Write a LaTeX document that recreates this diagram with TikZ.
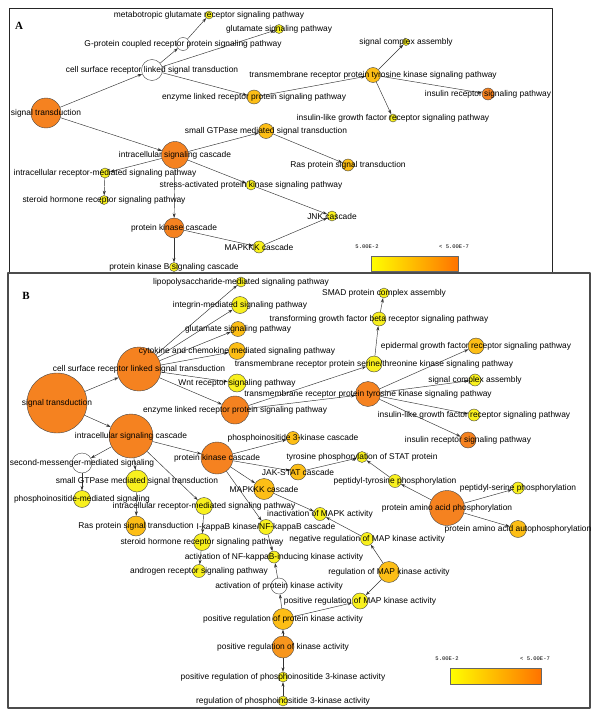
\documentclass[tikz,border=0pt]{standalone}
\usepackage{fontspec}
\setmainfont{Liberation Sans}
\newfontfamily\panelfont{Liberation Serif}
\newfontfamily\legendfont{Liberation Mono}
\usetikzlibrary{arrows.meta}
\pgfdeclarelayer{bg}
\pgfsetlayers{bg,main}
\definecolor{hi}{RGB}{245,130,32}
\definecolor{mid}{RGB}{253,190,22}
\definecolor{lo}{RGB}{248,240,30}
\definecolor{pk}{RGB}{247,150,30}
\definecolor{rim}{RGB}{70,70,70}
\begin{document}
\begin{tikzpicture}[x=1pt, y=-1pt, font=\fontsize{8.4}{9}\selectfont, line join=round, >={Stealth[length=4.5pt,width=3pt]},
	go/.style={circle, draw=rim, line width=0.4pt, inner sep=0pt},
	edge/.style={->, draw=black!80, line width=0.45pt},
	panel/.style={draw=black!85, line width=1pt}]
	\useasboundingbox (0,0) rectangle (600,717);
	% panel frames
	\draw[panel] (9,9) rectangle (552,272);
	\draw[panel, draw=black!70, line width=1.3pt] (8,273) rectangle (590,708);
	\node[font=\panelfont\bfseries\fontsize{11}{12}\selectfont] (labA) at (19,26) {A};
	\node[font=\panelfont\bfseries\fontsize{11}{12}\selectfont] (labB) at (26,296) {B};

	% ---- panel A ----
	\node[go, minimum size=30pt, fill=hi, label=center:signal transduction] (aST) at (46,113) {};
	\node[go, minimum size=21pt, fill=white, label=center:cell surface receptor linked signal transduction] (aCS) at (152,70) {};
	\node[go, minimum size=13pt, fill=white, label=center:G-protein coupled receptor protein signaling pathway] (aGP) at (183,44) {};
	\node[go, minimum size=8pt, fill=lo, label=center:metabotropic glutamate receptor signaling pathway] (aMG) at (209,15) {};
	\node[go, minimum size=9pt, fill=lo, label=center:glutamate signaling pathway] (aGS) at (279,29) {};
	\node[go, minimum size=14pt, fill=mid, label=center:enzyme linked receptor protein signaling pathway] (aEL) at (254,97) {};
	\node[go, minimum size=15pt, fill=mid, label=center:transmembrane receptor protein tyrosine kinase signaling pathway] (aRTK) at (373,75) {};
	\node[go, minimum size=7pt, fill=lo, label=center:signal complex assembly] (aSCA) at (406,42) {};
	\node[go, minimum size=12pt, fill=hi, label=center:insulin receptor signaling pathway] (aIR) at (488,94) {};
	\node[go, minimum size=8pt, fill=lo, label=center:insulin-like growth factor receptor signaling pathway] (aIGF) at (393,118) {};
	\node[go, minimum size=27pt, fill=hi, label=center:intracellular signaling cascade] (aICS) at (175,155) {};
	\node[go, minimum size=15pt, fill=mid, label=center:small GTPase mediated signal transduction] (aGTP) at (266,131) {};
	\node[go, minimum size=12pt, fill=mid, label=center:Ras protein signal transduction] (aRas) at (348,165) {};
	\node[go, minimum size=10pt, fill=lo, label=center:intracellular receptor-mediated signaling pathway] (aIRM) at (105,173) {};
	\node[go, minimum size=9pt, fill=lo, label=center:steroid hormone receptor signaling pathway] (aSH) at (104,200) {};
	\node[go, minimum size=10pt, fill=lo, label=center:stress-activated protein kinase signaling pathway] (aSAPK) at (251,185) {};
	\node[go, minimum size=10pt, fill=lo, label=center:JNK cascade] (aJNK) at (332,216) {};
	\node[go, minimum size=20pt, fill=hi, label=center:protein kinase cascade] (aPKC) at (174,228) {};
	\node[go, minimum size=12pt, fill=lo, label=center:MAPKKK cascade] (aMKKK) at (259,247) {};
	\node[go, minimum size=9pt, fill=lo, label=center:protein kinase B signaling cascade] (aPKB) at (174,267) {};

	% legend A
	\node[font=\legendfont\fontsize{5.5}{6}\selectfont] (aLo) at (367,247) {5.00E-2};
	\node[font=\legendfont\fontsize{5.5}{6}\selectfont] (aHi) at (454,247) {< 5.00E-7};
	\shade[left color=yellow, right color=orange!90!red, draw=black!60, line width=0.5pt] (371,256) rectangle (458,271);

	% ---- panel B ----
	\node[go, minimum size=60pt, fill=hi, label=center:signal transduction] (bST) at (57,403) {};
	\node[go, minimum size=44pt, fill=hi, label=center:cell surface receptor linked signal transduction] (bCS) at (139,369) {};
	\node[go, minimum size=10pt, fill=lo, label=center:lipopolysaccharide-mediated signaling pathway] (bLPS) at (241,282) {};
	\node[go, minimum size=17pt, fill=lo, label=center:integrin-mediated signaling pathway] (bInt) at (240,305) {};
	\node[go, minimum size=15pt, fill=mid, label=center:glutamate signaling pathway] (bGlu) at (238,329) {};
	\node[go, minimum size=17pt, fill=mid, label=center:cytokine and chemokine mediated signaling pathway] (bCyt) at (237,351) {};
	\node[go, minimum size=18pt, fill=lo, label=center:Wnt receptor signaling pathway] (bWnt) at (237,383) {};
	\node[go, minimum size=28pt, fill=hi, label=center:enzyme linked receptor protein signaling pathway] (bEL) at (235,410) {};
	\node[go, minimum size=10pt, fill=lo, label=center:SMAD protein complex assembly] (bSMAD) at (384,293) {};
	\node[go, minimum size=14pt, fill=lo, label=center:transforming growth factor beta receptor signaling pathway] (bTGF) at (379,319) {};
	\node[go, minimum size=16pt, fill=mid, label=center:epidermal growth factor receptor signaling pathway] (bEGF) at (476,346) {};
	\node[go, minimum size=16pt, fill=lo, label=center:transmembrane receptor protein serine/threonine kinase signaling pathway] (bSTK) at (374,364) {};
	\node[go, minimum size=12pt, fill=lo, label=center:signal complex assembly] (bSCA) at (475,380) {};
	\node[go, minimum size=25pt, fill=hi, label=center:transmembrane receptor protein tyrosine kinase signaling pathway] (bRTK) at (368,394) {};
	\node[go, minimum size=12pt, fill=lo, label=center:insulin-like growth factor receptor signaling pathway] (bIGF) at (474,415) {};
	\node[go, minimum size=16pt, fill=hi, label=center:insulin receptor signaling pathway] (bIR) at (468,440) {};
	\node[go, minimum size=44pt, fill=hi, label=center:intracellular signaling cascade] (bICS) at (131,436) {};
	\node[go, minimum size=32pt, fill=hi, label=center:protein kinase cascade] (bPKC) at (217,458) {};
	\node[go, minimum size=13pt, fill=mid, label=center:phosphoinositide 3-kinase cascade] (bPI3K) at (293,438) {};
	\node[go, minimum size=11pt, fill=lo, label=center:tyrosine phosphorylation of STAT protein] (bSTAT) at (362,457) {};
	\node[go, minimum size=16pt, fill=mid, label=center:JAK-STAT cascade] (bJAK) at (298,472) {};
	\node[go, minimum size=13pt, fill=lo, label=center:peptidyl-tyrosine phosphorylation] (bPTyr) at (395,481) {};
	\node[go, minimum size=12pt, fill=lo, label=center:peptidyl-serine phosphorylation] (bPSer) at (518,488) {};
	\node[go, minimum size=35pt, fill=hi, label=center:protein amino acid phosphorylation] (bPAA) at (447,508) {};
	\node[go, minimum size=17pt, fill=mid, label=center:protein amino acid autophosphorylation] (bAuto) at (518,529) {};
	\node[go, minimum size=20pt, fill=white, label=center:second-messenger-mediated signaling] (bSM) at (82,463) {};
	\node[go, minimum size=22pt, fill=lo, label=center:small GTPase mediated signal transduction] (bGTP) at (137,481) {};
	\node[go, minimum size=21pt, fill=mid, label=center:MAPKKK cascade] (bMKKK) at (264,489) {};
	\node[go, minimum size=17pt, fill=lo, label=center:phosphoinositide-mediated signaling] (bPIM) at (82,499) {};
	\node[go, minimum size=17pt, fill=lo, label=center:intracellular receptor-mediated signaling pathway] (bIRM) at (204,506) {};
	\node[go, minimum size=20pt, fill=mid, label=center:Ras protein signal transduction] (bRas) at (136,526) {};
	\node[go, minimum size=15pt, fill=lo, label=center:I-kappaB kinase/NF-kappaB cascade] (bNFkB) at (266,527) {};
	\node[go, minimum size=17pt, fill=lo, label=center:steroid hormone receptor signaling pathway] (bSH) at (202,542) {};
	\node[go, minimum size=13pt, fill=lo, label=center:inactivation of MAPK activity] (bInMAPK) at (320,514) {};
	\node[go, minimum size=13pt, fill=lo, label=center:negative regulation of MAP kinase activity] (bNeg) at (367,539) {};
	\node[go, minimum size=12pt, fill=lo, label=center:activation of NF-kappaB-inducing kinase activity] (bNIK) at (274,557) {};
	\node[go, minimum size=13pt, fill=lo, label=center:androgen receptor signaling pathway] (bAR) at (199,571) {};
	\node[go, minimum size=21pt, fill=mid, label=center:regulation of MAP kinase activity] (bRMAP) at (389,572) {};
	\node[go, minimum size=16pt, fill=white, label=center:activation of protein kinase activity] (bAPK) at (279,586) {};
	\node[go, minimum size=16pt, fill=lo, label=center:positive regulation of MAP kinase activity] (bPMAP) at (360,601) {};
	\node[go, minimum size=21pt, fill=mid, label=center:positive regulation of protein kinase activity] (bPPK) at (283,619) {};
	\node[go, minimum size=22pt, fill=pk, label=center:positive regulation of kinase activity] (bPK) at (283,647) {};
	\node[go, minimum size=10pt, fill=lo, label=center:positive regulation of phosphoinositide 3-kinase activity] (bPPI3K) at (283,677) {};
	\node[go, minimum size=10pt, fill=lo, label=center:regulation of phosphoinositide 3-kinase activity] (bRPI3K) at (283,701) {};

	% legend B
	\node[font=\legendfont\fontsize{5.5}{6}\selectfont] (bLo) at (447,659) {5.00E-2};
	\node[font=\legendfont\fontsize{5.5}{6}\selectfont] (bHi) at (535,659) {< 5.00E-7};
	\shade[left color=yellow, right color=orange!90!red, draw=black!60, line width=0.5pt] (450,668) rectangle (541,684);

	\begin{pgfonlayer}{bg}
	% edges A
	\draw[edge] (aST) -- (aCS);
	\draw[edge] (aST) -- (aICS);
	\draw[edge] (aCS) -- (aGP);
	\draw[edge] (aGP) -- (aMG);
	\draw[edge] (aCS) -- (aGS);
	\draw[edge] (aCS) -- (aEL);
	\draw[edge] (aEL) -- (aRTK);
	\draw[edge] (aRTK) -- (aSCA);
	\draw[edge] (aRTK) -- (aIR);
	\draw[edge] (aRTK) -- (aIGF);
	\draw[edge] (aICS) -- (aGTP);
	\draw[edge] (aGTP) -- (aRas);
	\draw[edge] (aICS) -- (aIRM);
	\draw[edge] (aIRM) -- (aSH);
	\draw[edge] (aICS) -- (aSAPK);
	\draw[edge] (aSAPK) -- (aJNK);
	\draw[edge] (aICS) -- (aPKC);
	\draw[edge] (aPKC) -- (aMKKK);
	\draw[edge] (aMKKK) -- (aJNK);
	\draw[edge] (aPKC) -- (aPKB);
	% edges B
	\draw[edge] (bST) -- (bCS);
	\draw[edge] (bST) -- (bICS);
	\draw[edge] (bCS) -- (bLPS);
	\draw[edge] (bCS) -- (bInt);
	\draw[edge] (bCS) -- (bGlu);
	\draw[edge] (bCS) -- (bCyt);
	\draw[edge] (bCS) -- (bWnt);
	\draw[edge] (bCS) -- (bEL);
	\draw[edge] (bEL) -- (bSTK);
	\draw[edge] (bEL) -- (bRTK);
	\draw[edge] (bSTK) -- (bTGF);
	\draw[edge] (bTGF) -- (bSMAD);
	\draw[edge] (bRTK) -- (bEGF);
	\draw[edge] (bRTK) -- (bSCA);
	\draw[edge] (bRTK) -- (bIGF);
	\draw[edge] (bRTK) -- (bIR);
	\draw[edge] (bICS) -- (bSM);
	\draw[edge] (bICS) -- (bGTP);
	\draw[edge] (bICS) -- (bPKC);
	\draw[edge] (bICS) -- (bIRM);
	\draw[edge] (bSM) -- (bPIM);
	\draw[edge] (bGTP) -- (bRas);
	\draw[edge] (bIRM) -- (bSH);
	\draw[edge] (bSH) -- (bAR);
	\draw[edge] (bPKC) -- (bPI3K);
	\draw[edge] (bPKC) -- (bJAK);
	\draw[edge] (bPKC) -- (bMKKK);
	\draw[edge] (bPKC) -- (bNFkB);
	\draw[edge] (bJAK) -- (bSTAT);
	\draw[edge] (bPTyr) -- (bSTAT);
	\draw[edge] (bPAA) -- (bPTyr);
	\draw[edge] (bPAA) -- (bPSer);
	\draw[edge] (bPAA) -- (bAuto);
	\draw[edge] (bMKKK) -- (bInMAPK);
	\draw[edge] (bNeg) -- (bInMAPK);
	\draw[edge] (bRMAP) -- (bNeg);
	\draw[edge] (bRMAP) -- (bPMAP);
	\draw[edge] (bNFkB) -- (bNIK);
	\draw[edge] (bAPK) -- (bNIK);
	\draw[edge] (bPPK) -- (bAPK);
	\draw[edge] (bPPK) -- (bPMAP);
	\draw[edge] (bPK) -- (bPPK);
	\draw[edge] (bPK) -- (bPPI3K);
	\draw[edge] (bRPI3K) -- (bPPI3K);
	\end{pgfonlayer}
\end{tikzpicture}
\end{document}
